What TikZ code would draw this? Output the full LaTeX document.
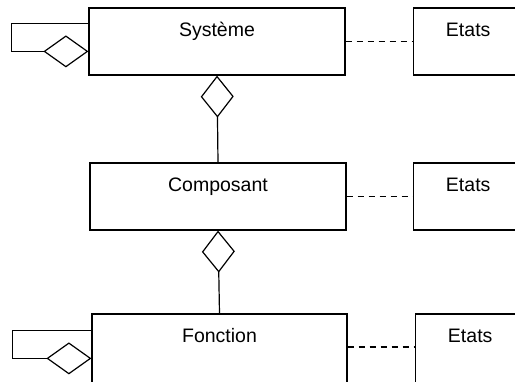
\documentclass[tikz,border=0pt]{standalone}
\usepackage{fontspec}
\setmainfont{Liberation Sans}
\usetikzlibrary{arrows.meta,positioning}

\begin{document}
\begin{tikzpicture}[x=1pt, y=-1pt, node distance=67pt,
  cls/.style={draw, line width=1.2pt, minimum width=256pt, minimum height=67pt, inner sep=0pt},
  st/.style={cls, minimum width=110pt},
  nom/.style={font=\fontsize{19.5}{23}\selectfont, anchor=base, inner sep=0pt},
  agg/.style={line width=1.2pt, -{Diamond[open, length=45pt 0 0, width=32pt 0 0, line join=miter]}},
  aggv/.style={line width=1.2pt, -{Diamond[open, length=42pt 0 0, width=33pt 0 0, line join=miter]}},
  lien/.style={line width=1.2pt, dash pattern=on 6pt off 5pt}]
\useasboundingbox (0,0) rectangle (515,382);
\clip (0,0) rectangle (515,382);
% classes
\node[cls] (sys) at (217,41.5) {};
\node[cls] (com) at (218,196.5) {};
\node[cls, minimum width=255pt, minimum height=74pt] (fon) at (219.5,351) {};
\node[nom] (sys-t) at ([yshift=-29pt]sys.north) {Système};
\node[nom] (com-t) at ([yshift=-29pt]com.north) {Composant};
\node[nom] (fon-t) at ([yshift=-29pt]fon.north) {Fonction};
% etats
\node[st, right=of sys] (e1) {};
\node[st, right=66pt of com] (e2) {};
\node[st, minimum height=74pt, right=of fon] (e3) {};
\node[nom] (e1-t) at ([yshift=-29pt]e1.north) {Etats};
\node[nom] (e2-t) at ([yshift=-29pt]e2.north) {Etats};
\node[nom] (e3-t) at ([yshift=-29pt]e3.north) {Etats};
\draw[lien] (sys) -- (e1);
\draw[lien] (com) -- (e2);
\draw[lien] ([yshift=4pt]fon.east) -- ([yshift=4pt]e3.west);
% agregations
\draw[aggv] (com.north) -- (sys.south);
\draw[aggv] (fon.north) -- (com.south);
\draw[agg] ([yshift=-16pt]sys.north west) -- ++(-77,0) |- ([yshift=-44pt]sys.north west);
\draw[agg] ([yshift=-17pt]fon.north west) -- ++(-79,0) |- ([yshift=-45pt]fon.north west);
\end{tikzpicture}
\end{document}
